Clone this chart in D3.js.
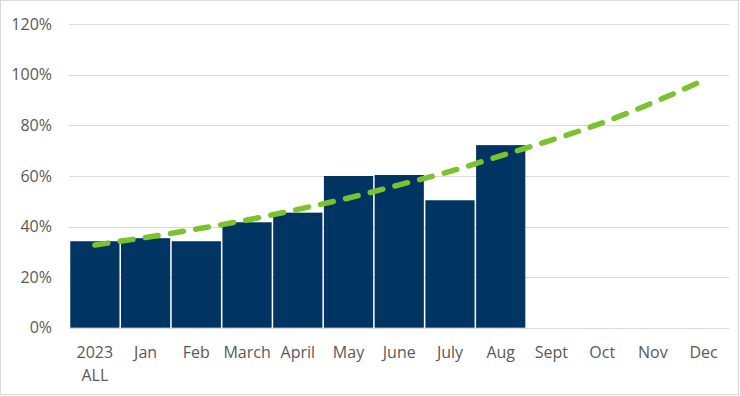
<!DOCTYPE html>
<html>

<head>
    <title>2023 progress by month</title>
    <script src="https://d3js.org/d3.v7.min.js"></script>
    <style>
        body {
            margin: 0;
            padding: 0;
            background: #ffffff;
            font-family: "Open Sans", Arial, sans-serif;
        }

        .axis-label {
            fill: #595959;
            font-size: 16px;
        }
    </style>
</head>

<body>
    <div id="chart"></div>

    <script>
        const categories = ["2023 ALL", "Jan", "Feb", "March", "April", "May", "June", "July", "Aug", "Sept", "Oct", "Nov", "Dec"];
        const barValues = [0.342, 0.354, 0.342, 0.417, 0.455, 0.600, 0.604, 0.504, 0.722];
        const lineValues = [0.327, 0.357, 0.390, 0.426, 0.468, 0.513, 0.565, 0.618, 0.680, 0.742, 0.810, 0.890, 0.979];
        const yTicks = [0, 0.2, 0.4, 0.6, 0.8, 1.0, 1.2];

        const width = 740,
            height = 396;
        const margin = {
            top: 24.3,
            right: 11,
            bottom: 68.3,
            left: 69.5
        };

        var svg = d3.select("#chart").append("svg")
            .attr("width", width)
            .attr("height", height);

        // outer chart border
        svg.append("rect")
            .attr("x", 0.5)
            .attr("y", 0.5)
            .attr("width", width - 2)
            .attr("height", height - 2)
            .attr("fill", "#ffffff")
            .attr("stroke", "#d9d9d9");

        var xScale = d3.scaleBand()
            .domain(categories)
            .range([margin.left, width - margin.right])
            .paddingInner(0.03)
            .paddingOuter(0.015);
        var yScale = d3.scaleLinear()
            .domain([0, 1.2])
            .range([height - margin.bottom, margin.top]);

        // gridlines
        svg.append("g")
            .selectAll("line")
            .data(yTicks)
            .enter().append("line")
            .attr("x1", margin.left)
            .attr("x2", width - margin.right)
            .attr("y1", d => Math.round(yScale(d)) + 0.5)
            .attr("y2", d => Math.round(yScale(d)) + 0.5)
            .attr("stroke", "#d9d9d9")
            .attr("stroke-width", 1.2);

        // y axis labels
        svg.append("g")
            .selectAll("text")
            .data(yTicks)
            .enter().append("text")
            .attr("class", "axis-label")
            .attr("x", 52)
            .attr("y", d => yScale(d))
            .attr("dy", "0.35em")
            .attr("text-anchor", "end")
            .text(d3.format(".0%"));

        // bars
        svg.selectAll(".bar")
            .data(barValues)
            .enter().append("rect")
            .attr("class", "bar")
            .attr("x", (d, i) => xScale(categories[i]))
            .attr("y", d => yScale(d))
            .attr("width", xScale.bandwidth())
            .attr("height", d => yScale(0) - yScale(d))
            .attr("fill", "#003462");

        // x axis labels
        var xLabels = svg.append("g")
            .selectAll("text")
            .data(categories)
            .enter().append("text")
            .attr("class", "axis-label")
            .attr("x", d => xScale(d) + xScale.bandwidth() / 2)
            .attr("y", 358)
            .attr("text-anchor", "middle");

        xLabels.selectAll("tspan")
            .data(d => d.split(" "))
            .enter().append("tspan")
            .attr("x", function () { return d3.select(this.parentNode).attr("x"); })
            .attr("dy", (d, i) => i === 0 ? 0 : 23)
            .text(d => d);

        // dashed trend line
        var line = d3.line()
            .x((d, i) => xScale(categories[i]) + xScale.bandwidth() / 2)
            .y(d => yScale(d))
            .curve(d3.curveMonotoneX);

        svg.append("path")
            .datum(lineValues)
            .attr("d", line)
            .attr("fill", "none")
            .attr("stroke", "#7cc22e")
            .attr("stroke-width", 5.5)
            .attr("stroke-linecap", "round")
            .attr("stroke-dasharray", "13,12.5");
    </script>
</body>
</html>
